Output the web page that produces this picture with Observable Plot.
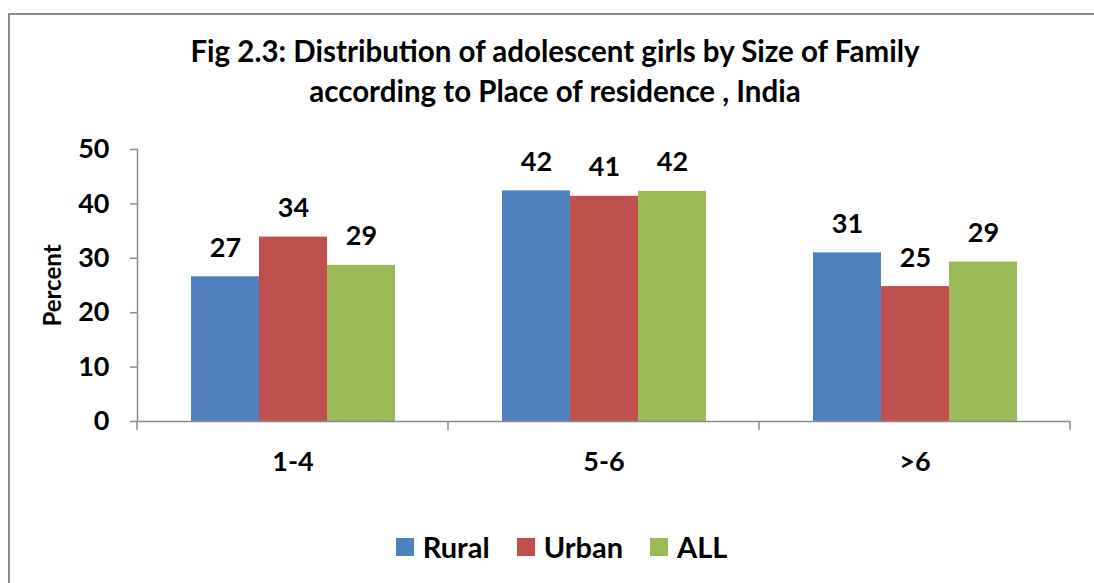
<!DOCTYPE html>
<html>
<head>
<meta charset="utf-8">
<script src="https://cdn.jsdelivr.net/npm/d3@7"></script>
<script src="https://cdn.jsdelivr.net/npm/@observablehq/plot@0.6"></script>
<style>
  html, body { margin: 0; padding: 0; background: #fff; width: 1094px; height: 583px; overflow: hidden; }
  body { position: relative; font-family: Lato, "Open Sans", sans-serif; font-weight: bold; color: #000; }
  #frame { position: absolute; left: 8px; top: 13px; width: 1200px; height: 700px; border: 2px solid #8a8a8a; box-sizing: border-box; pointer-events: none; z-index: 3; }
  #title { position: absolute; left: 0; top: 31px; width: 1110px; text-align: center; font-size: 29.5px; line-height: 40px; z-index: 2; }
  #chart { position: absolute; left: 0; top: 0; z-index: 1; }
  #legend { position: absolute; left: 0; top: 529px; width: 1150px; display: flex; justify-content: center; z-index: 2; }
  #legend [class$="-swatch"] { margin-right: 27px; }
  #legend [class$="-swatch"] > svg { margin-right: 9px; }
</style>
</head>
<body>
<div id="frame"></div>
<div id="title">Fig 2.3: Distribution of adolescent girls by Size of Family<br>according to Place of residence , India</div>
<div id="chart"></div>
<div id="legend"></div>
<script>
const categories = ["1-4", "5-6", ">6"];
const series = ["Rural", "Urban", "ALL"];
const rural = [26.6, 42.4, 31.0];
const urban = [33.9, 41.4, 24.8];
const all = [28.7, 42.3, 29.3];
const colors = ["#4F81BD", "#C0504D", "#9BBB59"];
const yTicks = [0, 10, 20, 30, 40, 50];

const valuesBySeries = [rural, urban, all];
const data = [];
categories.forEach((c, i) => {
  series.forEach((s, j) => data.push({size: c, area: s, value: valuesBySeries[j][i]}));
});

const font = "Lato, 'Open Sans', sans-serif";
const chart = Plot.plot({
  width: 1094,
  height: 500,
  marginLeft: 137,
  marginRight: 24,
  marginTop: 149,
  marginBottom: 79,
  style: {fontFamily: font, fontWeight: "bold", fontSize: "27px", color: "#000", background: "transparent"},
  fx: {domain: categories, padding: 0, label: null},
  x: {domain: series, paddingInner: 0, paddingOuter: 0.754, axis: null},
  y: {domain: [0, 50], label: null},
  color: {domain: series, range: colors},
  marks: [
    Plot.barY(data, {fx: "size", x: "area", y: "value", fill: "area"}),
    Plot.ruleY([0], {stroke: "#8a8a8a", strokeWidth: 1.5}),
    Plot.frame({anchor: "left", facetAnchor: "left", stroke: "#8a8a8a", strokeWidth: 1.5}),
    Plot.text(data, {fx: "size", x: "area", y: "value", text: d => String(Math.round(d.value)),
      lineAnchor: "bottom", dy: -20, fontSize: 27, fontWeight: "bold", fill: "#000"}),
    Plot.axisY({ticks: yTicks, tickSize: 7, tickPadding: 21, stroke: "#8a8a8a", strokeWidth: 1.5,
      fontSize: 27, fontWeight: "bold", fill: "#000",
      label: "Percent", labelAnchor: "center", labelArrow: false, labelOffset: 94}),
    Plot.axisFx({anchor: "bottom", tickSize: 0, tickPadding: 30, label: null, fontSize: 27, fontWeight: "bold", fill: "#000"})
  ]
});
document.getElementById("chart").appendChild(chart);

// Excel-style between-category tick marks below the axis, placed from the fx scale
const fx = chart.scale("fx");
const y = chart.scale("y");
const svg = d3.select(chart);
const y0 = y.apply(0);
const x0 = fx.range[0];
const boundaries = d3.range(categories.length + 1).map(i => x0 + i * fx.step);
svg.append("g").selectAll("line").data(boundaries).join("line")
  .attr("x1", d => d).attr("x2", d => d)
  .attr("y1", y0).attr("y2", y0 + 9)
  .attr("stroke", "#8a8a8a").attr("stroke-width", 1.5);

// y-axis label size
svg.selectAll("[aria-label='y-axis label'] text, [aria-label='y-axis label']").attr("font-size", 24);

const legend = Plot.legend({
  color: {domain: series, range: colors},
  swatchSize: 18,
  style: {fontFamily: font, fontWeight: "bold", fontSize: "29px", color: "#000"}
});
document.getElementById("legend").appendChild(legend);
</script>
</body>
</html>
